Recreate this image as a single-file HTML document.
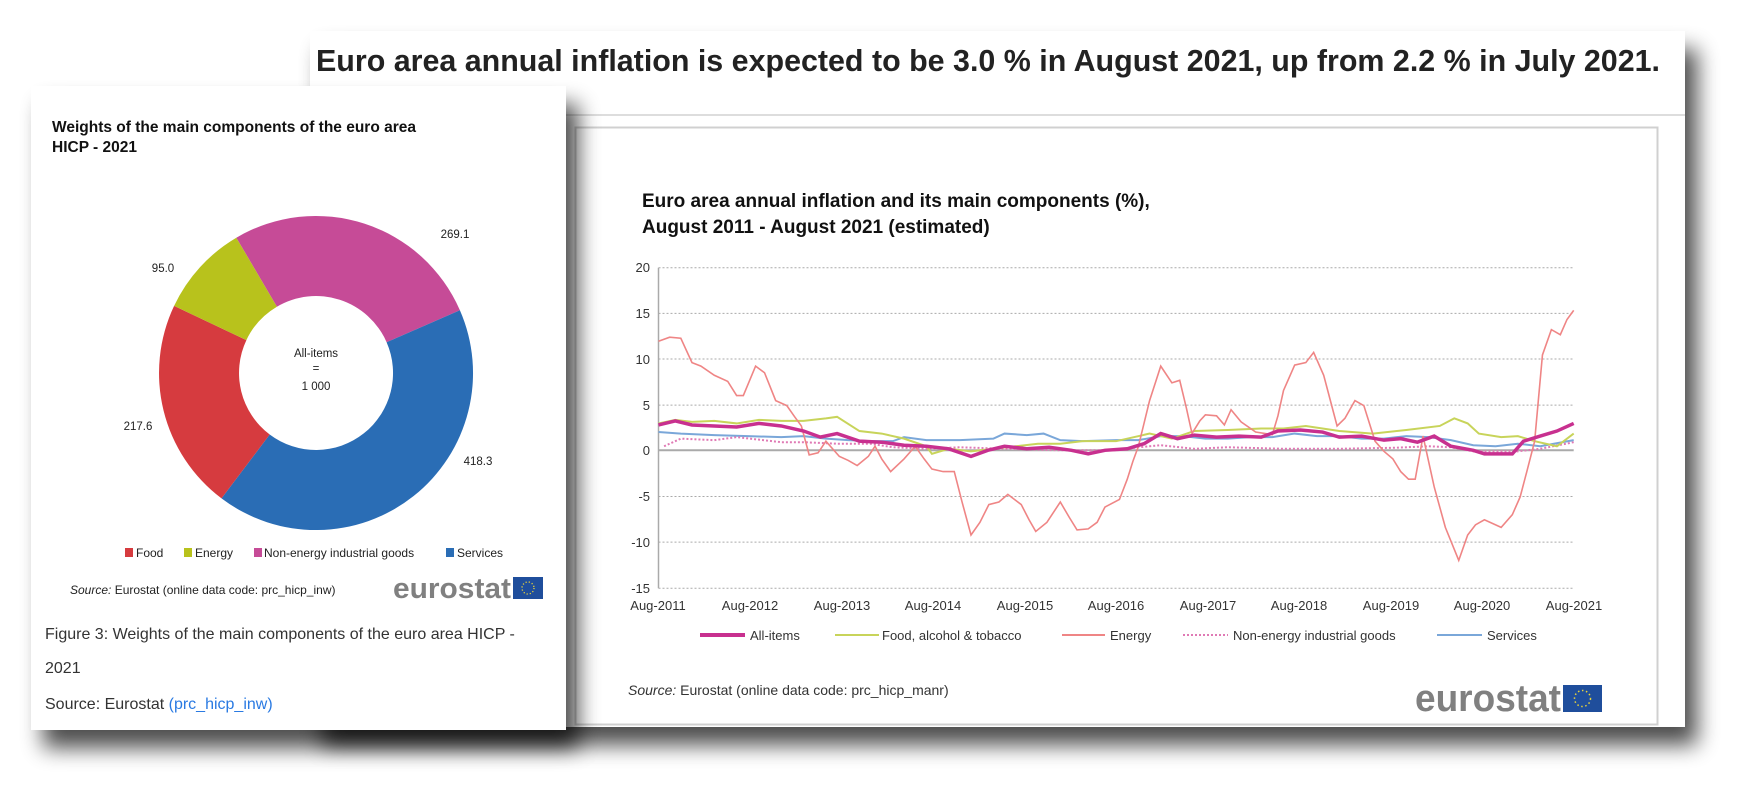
<!DOCTYPE html>
<html><head><meta charset="utf-8"><style>
html,body{margin:0;padding:0;background:#fff;}
svg{display:block;}
text{font-family:"Liberation Sans",Arial,sans-serif;}
</style></head><body>
<svg width="1750" height="795" viewBox="0 0 1750 795" xmlns="http://www.w3.org/2000/svg">
<defs>
<filter id="sh" x="-10%" y="-10%" width="130%" height="130%">
<feGaussianBlur in="SourceAlpha" stdDeviation="11"/>
<feOffset dx="12" dy="18" result="o"/>
<feComponentTransfer><feFuncA type="linear" slope="0.7"/></feComponentTransfer>
<feMerge><feMergeNode/><feMergeNode in="SourceGraphic"/></feMerge>
</filter>
</defs>
<rect width="1750" height="795" fill="#fff"/>
<rect x="310" y="31" width="1375" height="696" fill="#fff" filter="url(#sh)"/>
<text x="316" y="71" font-size="31" font-weight="bold" fill="#222" textLength="1344" lengthAdjust="spacingAndGlyphs">Euro area annual inflation is expected to be 3.0 % in August 2021, up from 2.2 % in July 2021.</text>
<line x1="310" y1="115" x2="1685" y2="115" stroke="#ddd" stroke-width="2"/>
<rect x="575.5" y="127.5" width="1082" height="597" fill="#fff" stroke="#d0d0d0" stroke-width="2"/>
<text x="642" y="207" font-size="19" font-weight="bold" fill="#111">Euro area annual inflation and its main components (%),</text>
<text x="642" y="233" font-size="19" font-weight="bold" fill="#111">August 2011 - August 2021 (estimated)</text>
<g font-size="13" fill="#333" text-anchor="end">
<text x="650" y="272">20</text><text x="650" y="318">15</text><text x="650" y="364">10</text>
<text x="650" y="410">5</text><text x="650" y="455">0</text><text x="650" y="501">-5</text>
<text x="650" y="547">-10</text><text x="650" y="593">-15</text>
</g>
<g transform="matrix(1.1161,0,0,0.5071,0,0)" fill="none">
<g stroke="#aaa" stroke-dasharray="2,2">
<line x1="590" y1="528" x2="1410" y2="528" vector-effect="non-scaling-stroke"/>
<line x1="590" y1="618" x2="1410" y2="618" vector-effect="non-scaling-stroke"/>
<line x1="590" y1="708" x2="1410" y2="708" vector-effect="non-scaling-stroke"/>
<line x1="590" y1="799" x2="1410" y2="799" vector-effect="non-scaling-stroke"/>
<line x1="590" y1="979" x2="1410" y2="979" vector-effect="non-scaling-stroke"/>
<line x1="590" y1="1069" x2="1410" y2="1069" vector-effect="non-scaling-stroke"/>
<line x1="590" y1="1160" x2="1410" y2="1160" vector-effect="non-scaling-stroke"/>
</g>
<line x1="590" y1="528" x2="590" y2="1160" stroke="#aaa" stroke-width="1.5" vector-effect="non-scaling-stroke"/>
<line x1="590" y1="888" x2="1410" y2="888" stroke="#aaa" stroke-width="2" vector-effect="non-scaling-stroke"/>
<polyline vector-effect="non-scaling-stroke" stroke="#7aa7d9" stroke-width="2" points="590,852 610,855 640,858 670,860 700,862 720,860 740,865 760,868 780,870 800,870 810,862 830,868 860,868 890,865 900,855 920,858 935,855 950,868 970,870 1000,868 1020,868 1040,860 1060,860 1080,865 1100,865 1120,862 1140,862 1160,855 1180,860 1200,860 1220,865 1240,865 1260,860 1280,862 1300,868 1320,878 1340,880 1360,875 1380,880 1410,868"/>
<polyline vector-effect="non-scaling-stroke" stroke="#e07ab5" stroke-width="2" stroke-dasharray="2,2" points="595,880 610,865 640,868 660,862 700,872 720,872 750,875 780,875 800,882 830,885 860,882 900,885 950,888 1000,888 1020,882 1040,878 1070,885 1100,882 1150,885 1200,885 1250,883 1280,880 1300,882 1320,890 1360,890 1380,885 1410,872"/>
<polyline vector-effect="non-scaling-stroke" stroke="#c8d45a" stroke-width="2" points="590,835 605,828 620,832 640,830 660,835 680,828 700,830 720,830 740,825 750,822 770,850 790,855 810,865 830,880 835,895 850,885 870,890 890,885 910,880 930,875 950,875 970,870 1000,870 1030,855 1050,865 1070,850 1100,848 1130,845 1150,845 1170,840 1200,850 1230,855 1260,848 1290,840 1303,825 1315,835 1325,855 1345,862 1360,860 1375,870 1395,880 1410,855"/>
<polyline vector-effect="non-scaling-stroke" stroke="#ef8585" stroke-width="1.6" points="590,673 600,665 610,667 620,715 628,722 640,740 652,752 660,780 666,780 677,722 685,735 695,790 705,800 712,822 718,840 725,897 733,893 740,870 752,900 760,908 768,918 778,900 784,880 790,905 798,930 810,905 820,880 828,905 835,925 845,930 855,930 862,990 870,1055 878,1030 886,995 895,990 903,975 915,995 922,1025 928,1048 938,1030 950,990 958,1020 965,1045 975,1043 983,1030 990,1000 1003,985 1010,945 1015,910 1020,880 1030,790 1040,722 1050,755 1057,750 1063,805 1068,855 1075,830 1080,818 1090,820 1097,838 1103,808 1112,832 1125,852 1140,857 1145,820 1150,770 1160,720 1170,715 1177,695 1186,740 1192,790 1198,840 1205,825 1214,790 1222,800 1232,870 1240,890 1248,905 1255,930 1262,945 1268,945 1275,860 1285,960 1295,1040 1307,1105 1315,1055 1322,1035 1330,1025 1345,1040 1355,1015 1362,980 1368,930 1375,870 1382,700 1390,650 1398,660 1404,630 1410,612"/>
<polyline vector-effect="non-scaling-stroke" stroke="#c8308f" stroke-width="3.5" points="590,838 605,830 620,838 640,840 660,842 680,835 700,840 720,850 735,862 750,855 770,870 790,872 810,878 830,880 850,885 870,900 885,888 900,880 920,885 940,882 960,888 975,895 990,888 1010,885 1025,875 1040,855 1055,865 1070,858 1090,862 1110,860 1130,862 1145,850 1165,848 1185,852 1200,862 1220,860 1240,868 1255,865 1270,872 1285,860 1300,880 1320,888 1330,895 1355,895 1365,870 1380,860 1395,850 1410,835"/>
</g>
<g font-size="13" fill="#333" text-anchor="middle">
<text x="658" y="610">Aug-2011</text><text x="750" y="610">Aug-2012</text><text x="842" y="610">Aug-2013</text>
<text x="933" y="610">Aug-2014</text><text x="1025" y="610">Aug-2015</text><text x="1116" y="610">Aug-2016</text>
<text x="1208" y="610">Aug-2017</text><text x="1299" y="610">Aug-2018</text><text x="1391" y="610">Aug-2019</text>
<text x="1482" y="610">Aug-2020</text><text x="1574" y="610">Aug-2021</text>
</g>
<g font-size="13" fill="#333">
<line x1="700" y1="635" x2="745" y2="635" stroke="#c8308f" stroke-width="4"/><text x="750" y="640">All-items</text>
<line x1="835" y1="635" x2="879" y2="635" stroke="#c8d45a" stroke-width="2"/><text x="882" y="640">Food, alcohol &amp; tobacco</text>
<line x1="1062" y1="635" x2="1105" y2="635" stroke="#ef8585" stroke-width="2"/><text x="1110" y="640">Energy</text>
<line x1="1183" y1="635" x2="1228" y2="635" stroke="#e07ab5" stroke-width="2" stroke-dasharray="2,2"/><text x="1233" y="640">Non-energy industrial goods</text>
<line x1="1437" y1="635" x2="1482" y2="635" stroke="#7aa7d9" stroke-width="2"/><text x="1487" y="640">Services</text>
</g>
<text x="628" y="695" font-size="14" fill="#333"><tspan font-style="italic">Source:</tspan> Eurostat (online data code: prc_hicp_manr)</text>
<text x="1415" y="711" font-size="38" fill="#808080" font-weight="bold" textLength="146" lengthAdjust="spacingAndGlyphs">eurostat</text>
<rect x="1563" y="685" width="39" height="27" fill="#1f4e9c"/>
<circle cx="1582.5" cy="698.5" r="8" fill="none" stroke="#e8d33b" stroke-width="1.5" stroke-dasharray="1.5,2.6"/>

<rect x="31" y="86" width="535" height="644" fill="#fff" filter="url(#sh)"/>
<text x="52" y="132" font-size="15.5" font-weight="bold" fill="#111">Weights of the main components of the euro area</text>
<text x="52" y="152" font-size="15.5" font-weight="bold" fill="#111">HICP - 2021</text>
<path d="M236.3,237.7 A157,157 0 0 1 459.9,310.2 L386.6,342.2 A77,77 0 0 0 276.9,306.7 Z" fill="#c64b97"/>
<path d="M459.9,310.2 A157,157 0 0 1 221.5,498.4 L269.7,434.5 A77,77 0 0 0 386.6,342.2 Z" fill="#2a6db5"/>
<path d="M221.5,498.4 A157,157 0 0 1 174.1,305.9 L246.4,340.1 A77,77 0 0 0 269.7,434.5 Z" fill="#d63b3f"/>
<path d="M174.1,305.9 A157,157 0 0 1 236.3,237.7 L276.9,306.7 A77,77 0 0 0 246.4,340.1 Z" fill="#b8c21c"/>
<g font-size="11.5" fill="#222" text-anchor="middle">
<text x="455" y="238">269.1</text><text x="163" y="272">95.0</text>
<text x="138" y="430">217.6</text><text x="478" y="465">418.3</text>
<text x="316" y="357">All-items</text><text x="316" y="372">=</text><text x="316" y="390">1 000</text>
</g>
<g font-size="12" fill="#222">
<rect x="125" y="548" width="8" height="9" fill="#d63b3f"/><text x="136" y="557">Food</text>
<rect x="184" y="548" width="8" height="9" fill="#b8c21c"/><text x="195" y="557">Energy</text>
<rect x="254" y="548" width="8" height="9" fill="#c64b97"/><text x="264" y="557">Non-energy industrial goods</text>
<rect x="446" y="548" width="8" height="9" fill="#2a6db5"/><text x="457" y="557">Services</text>
</g>
<text x="70" y="594" font-size="12" fill="#222"><tspan font-style="italic">Source:</tspan> Eurostat (online data code: prc_hicp_inw)</text>
<text x="393" y="598" font-size="29" fill="#808080" font-weight="bold" textLength="118" lengthAdjust="spacingAndGlyphs">eurostat</text>
<rect x="513" y="577" width="30" height="22" fill="#1f4e9c"/>
<circle cx="528" cy="588" r="6" fill="none" stroke="#e8d33b" stroke-width="1.3" stroke-dasharray="1.2,2"/>
<g font-size="16" fill="#333">
<text x="45" y="639">Figure 3: Weights of the main components of the euro area HICP -</text>
<text x="45" y="673">2021</text>
<text x="45" y="709">Source: Eurostat <tspan fill="#2a7ae2">(prc_hicp_inw)</tspan></text>
</g>
</svg>
</body></html>
